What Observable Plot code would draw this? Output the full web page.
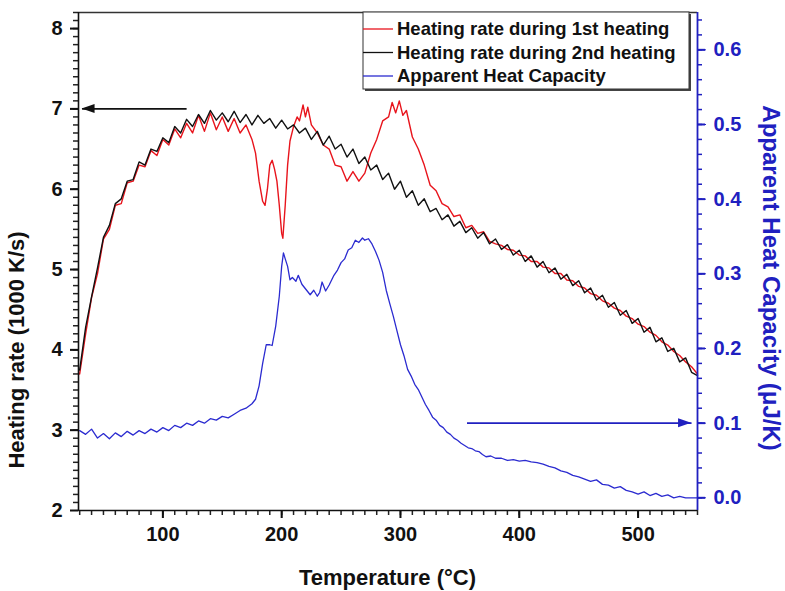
<!DOCTYPE html>
<html><head><meta charset="utf-8">
<script src="https://cdn.jsdelivr.net/npm/d3@7"></script>
<script src="https://cdn.jsdelivr.net/npm/@observablehq/plot@0.6"></script>
<style>
body{margin:0;background:#fff}
#chart svg{font-family:"Liberation Sans",Arial,sans-serif;}
</style>
</head><body><div id="chart"></div>
<script>
// ---- Data ----
// Heating rate during 2nd heating (1000 K/s)
const blackT = [30,35,40,45,50,55,60,65,70,75,80,85,90,95,100,105,110,115,120,125,130,135,140,145,150,155,160,165,170,175,180,185,190,195,200,205,210,215,220,225,230,235,240,245,250,255,260,265,270,275,280,285,290,295,300,305,310,315,320,325,330,335,340,345,350,355,360,365,370,375,380,385,390,395,400,405,410,415,420,425,430,435,440,445,450,455,460,465,470,475,480,485,490,495,500,505,510,515,520,525,530,535,540,545,550];
const blackV = [3.75,4.28,4.66,5.02,5.4,5.55,5.82,5.88,6.1,6.12,6.34,6.3,6.5,6.47,6.64,6.58,6.78,6.7,6.87,6.78,6.93,6.82,6.98,6.86,6.95,6.84,6.97,6.83,6.93,6.8,6.92,6.82,6.88,6.76,6.86,6.75,6.8,6.7,6.76,6.62,6.72,6.55,6.66,6.5,6.56,6.4,6.5,6.32,6.4,6.24,6.3,6.12,6.2,6.0,6.1,5.9,5.98,5.8,5.88,5.72,5.76,5.62,5.68,5.54,5.6,5.46,5.52,5.39,5.46,5.32,5.38,5.25,5.31,5.18,5.24,5.1,5.17,5.03,5.1,4.96,5.02,4.88,4.94,4.8,4.86,4.71,4.77,4.62,4.68,4.53,4.59,4.43,4.49,4.33,4.39,4.22,4.28,4.1,4.15,3.98,4.02,3.85,3.9,3.72,3.68];

// Heating rate during 1st heating (1000 K/s)
const redT = [30,35,40,45,50,55,60,65,70,75,80,85,90,95,100,105,110,115,120,125,130,135,140,145,150,155,160,165,170,175,178,181,184,186,188,190,192,194,196,198,200,201,203,205,207,210,213,215,218,220,222,225,230,235,240,245,250,255,260,265,270,275,280,285,290,293,296,299,302,305,310,315,320,325,330,335,340,345,350,355,360,365,370,375,380,385,390,395,400,405,410,415,420,425,430,435,440,445,450,455,460,465,470,475,480,485,490,495,500,505,510,515,520,525,530,535,540,545,550];
const redV = [3.7,4.2,4.65,4.95,5.38,5.5,5.8,5.82,6.08,6.1,6.3,6.28,6.48,6.42,6.62,6.55,6.75,6.64,6.82,6.7,6.92,6.72,6.95,6.74,6.9,6.72,6.88,6.7,6.8,6.62,6.45,6.1,5.85,5.8,6.0,6.3,6.36,6.25,6.1,5.8,5.45,5.39,5.8,6.3,6.6,6.78,6.9,6.85,7.05,6.9,7.02,6.8,6.7,6.55,6.5,6.3,6.28,6.1,6.22,6.1,6.2,6.45,6.62,6.85,6.9,7.08,6.95,7.1,6.92,6.98,6.65,6.5,6.3,6.05,5.98,5.82,5.78,5.66,5.68,5.52,5.55,5.45,5.47,5.35,5.32,5.3,5.25,5.24,5.18,5.17,5.1,5.1,5.03,5.02,4.95,4.95,4.87,4.86,4.79,4.77,4.7,4.68,4.61,4.58,4.52,4.49,4.42,4.39,4.32,4.29,4.22,4.18,4.1,4.06,3.98,3.93,3.85,3.79,3.7];

// Apparent heat capacity (µJ/K)
const blueT = [30,35,40,45,50,55,60,65,70,75,80,85,90,95,100,105,110,115,120,125,130,135,140,145,150,155,160,165,170,175,178,181,184,187,190,192,195,198,200,201.5,203,205,207,209,212,214,217,219,222,224,227,230,232,234,237,240,244,247,250,253,256,259,262,265,268,270,273,276,279,282,285,288,291,294,297,300,303,306,309,312,315,318,321,324,327,330,333,336,339,342,345,348,351,354,357,360,363,366,369,372,376,380,385,390,395,400,405,410,415,420,425,430,435,440,445,450,455,460,465,470,475,480,485,490,495,500,505,510,515,520,525,530,535,540,545,550];
const blueC = [0.09,0.085,0.092,0.08,0.086,0.079,0.087,0.082,0.089,0.084,0.09,0.086,0.092,0.088,0.094,0.09,0.097,0.094,0.1,0.097,0.103,0.1,0.106,0.104,0.109,0.107,0.112,0.117,0.12,0.126,0.132,0.15,0.18,0.205,0.205,0.204,0.23,0.27,0.31,0.328,0.32,0.31,0.292,0.295,0.29,0.298,0.286,0.282,0.276,0.272,0.278,0.27,0.275,0.289,0.277,0.285,0.298,0.305,0.315,0.32,0.332,0.335,0.345,0.342,0.348,0.345,0.347,0.34,0.33,0.318,0.302,0.278,0.26,0.243,0.224,0.205,0.19,0.172,0.163,0.152,0.145,0.135,0.125,0.117,0.108,0.104,0.097,0.094,0.088,0.085,0.08,0.077,0.073,0.07,0.067,0.066,0.063,0.062,0.058,0.055,0.056,0.053,0.053,0.05,0.051,0.049,0.05,0.048,0.047,0.045,0.042,0.04,0.036,0.034,0.03,0.028,0.025,0.022,0.024,0.018,0.017,0.013,0.015,0.01,0.008,0.005,0.008,0.003,0.006,0.002,0.004,0.0,0.002,0.0,0.0,0.0];

// Axis ticks
const xTicks = [100,200,300,400,500];
const yTicks = [2,3,4,5,6,7,8];
const rTicks = [0.0,0.1,0.2,0.3,0.4,0.5,0.6];
const xMinor = d3.range(30, 551, 10);
const yMinor = d3.range(21, 83, 1).map(d => d/10);
const rMinor = d3.range(0, 33, 1).map(d => d*0.02);

// Annotation arrows (data coordinates; tip is x2)
const leftArrow = [{x1:120, x2:32, y:7}];
const rightArrow = [{x1:356, x2:545, c:0.1}];

// Legend entries
const legendLabels = ["Heating rate during 1st heating","Heating rate during 2nd heating","Apparent Heat Capacity"];
const legendColors = ["#e8141c","#111111","#2b2bd0"];

// ---- Scales ----
const xDomain = [29, 550];
const yDomain = [2, 8.2];
const rDomain = [-0.017, 0.65];
const BLUE = "#2020c0";
const toLeft = c => yDomain[0] + (c - rDomain[0]) / (rDomain[1] - rDomain[0]) * (yDomain[1] - yDomain[0]);
const fromLeft = v => rDomain[0] + (v - yDomain[0]) / (yDomain[1] - yDomain[0]) * (rDomain[1] - rDomain[0]);

const black = blackT.map((t,i)=>({t, v:blackV[i]}));
const red = redT.map((t,i)=>({t, v:redV[i]}));
const blue = blueT.map((t,i)=>({t, v:toLeft(blueC[i])}));
const arrows = [
  ...leftArrow.map(d => ({x1:d.x1, x2:d.x2, y:d.y, color:"#111"})),
  ...rightArrow.map(d => ({x1:d.x1, x2:d.x2, y:toLeft(d.c), color:BLUE}))
];

const W = 785, H = 591;
const mL = 78, mR = 88, mT = 12, mB = 81;
// tick lengths expressed in data units of each scale (≈5 px minor, ≈8 px major)
const xu = (xDomain[1]-xDomain[0]) / (W - mL - mR);
const yu = (yDomain[1]-yDomain[0]) / (H - mT - mB);

const chart = Plot.plot({
  width: W, height: H,
  marginLeft: mL, marginRight: mR, marginTop: mT, marginBottom: mB,
  x: {domain: xDomain},
  y: {domain: yDomain},
  style: {fontFamily: '"Liberation Sans", Arial, sans-serif', fontSize: "20px", fontWeight: "bold", color: "#111", background: "#fff", overflow: "visible"},
  marks: [
    Plot.line(red, {x:"t", y:"v", stroke: legendColors[0], strokeWidth: 1.4}),
    Plot.line(black, {x:"t", y:"v", stroke: legendColors[1], strokeWidth: 1.4}),
    Plot.line(blue, {x:"t", y:"v", stroke: legendColors[2], strokeWidth: 1.3}),
    Plot.link(arrows, {x1:"x1", x2:"x2", y1:"y", y2:"y", stroke:"color", strokeWidth:1.6}),
    // tick marks as rules (outside the frame)
    Plot.ruleX(xMinor, {x: d => d, y1: yDomain[0], y2: yDomain[0] - 5*yu, stroke:"#222", strokeWidth:1.5}),
    Plot.ruleX(xTicks, {x: d => d, y1: yDomain[0], y2: yDomain[0] - 8*yu, stroke:"#111", strokeWidth:2}),
    Plot.ruleY(yMinor, {y: d => d, x1: xDomain[0], x2: xDomain[0] - 5*xu, stroke:"#222", strokeWidth:1.5}),
    Plot.ruleY(yTicks, {y: d => d, x1: xDomain[0], x2: xDomain[0] - 8*xu, stroke:"#111", strokeWidth:2}),
    Plot.ruleY(rMinor, {y: d => toLeft(d), x1: xDomain[1], x2: xDomain[1] + 5*xu, stroke:BLUE, strokeWidth:1.5}),
    Plot.ruleY(rTicks, {y: d => toLeft(d), x1: xDomain[1], x2: xDomain[1] + 8*xu, stroke:BLUE, strokeWidth:2}),
    // frame
    Plot.ruleY([yDomain[1]], {stroke:"#333", strokeWidth:1.3}),
    Plot.ruleY([yDomain[0]], {stroke:"#111", strokeWidth:1.6}),
    Plot.ruleX([xDomain[0]], {stroke:"#111", strokeWidth:1.6}),
    Plot.ruleX([xDomain[1]], {stroke:BLUE, strokeWidth:1.8}),
    // axis labels
    Plot.axisX({ticks: xTicks, tickSize: 8, tickPadding: 8, tickFormat: d => String(d), label: null, fontSize: 20, fontWeight: "bold"}),
    Plot.axisY({ticks: yTicks, tickSize: 8, tickPadding: 8, tickFormat: d => String(d), label: null, fontSize: 20, fontWeight: "bold"}),
    Plot.axisY({anchor: "right", ticks: rTicks.map(toLeft), tickFormat: v => (fromLeft(v)+1e-9).toFixed(1), tickSize: 8, tickPadding: 8, label: null, color: BLUE, fontSize: 20, fontWeight: "bold"})
  ]
});

document.getElementById("chart").appendChild(chart);

const svg = d3.select(chart);
const sx = chart.scale("x"), sy = chart.scale("y");

// filled arrowheads at the tips
arrows.forEach(d => {
  const tx = sx.apply(d.x2), ty = sy.apply(d.y), bx0 = sx.apply(d.x1);
  const dir = Math.sign(tx - bx0);
  const L = 13, hw = 4.5;
  svg.append("path")
    .attr("d", `M${tx},${ty} L${tx - dir*L},${ty - hw} L${tx - dir*L},${ty + hw} Z`)
    .attr("fill", d.color);
});

// Axis titles
svg.append("text").attr("x", (mL + W - mR)/2).attr("y", 585)
  .attr("text-anchor","middle").attr("font-size", 22).attr("font-weight","bold").attr("fill","#111")
  .text("Temperature (°C)");
svg.append("text").attr("transform", "translate(24,350) rotate(-90)")
  .attr("text-anchor","middle").attr("font-size", 22).attr("font-weight","bold").attr("fill","#111")
  .text("Heating rate (1000 K/s)");
svg.append("text").attr("transform", "translate(763,278) rotate(90)")
  .attr("text-anchor","middle").attr("font-size", 24).attr("font-weight","bold").attr("fill",BLUE)
  .text("Apparent Heat Capacity (μJ/K)");

// legend box
const lg = svg.append("g").attr("text-anchor","start");
const bx = 363, by = 12, bw = 326, bh = 77;
lg.append("rect").attr("x", bx+2).attr("y", by+2).attr("width", bw).attr("height", bh).attr("fill","#444");
lg.append("rect").attr("x", bx).attr("y", by).attr("width", bw).attr("height", bh).attr("fill","#fff").attr("stroke","#333").attr("stroke-width",1);
legendLabels.forEach((lab, i) => {
  const yy = by + 17 + i*23.5;
  lg.append("line").attr("x1", bx).attr("x2", bx+30).attr("y1", yy).attr("y2", yy).attr("stroke", legendColors[i]).attr("stroke-width", 1.3);
  lg.append("text").attr("x", bx+34).attr("y", yy).attr("dy","0.35em").attr("text-anchor","start").attr("font-size", 18.5).attr("font-weight","bold").attr("fill","#111").text(lab);
});
</script>
</body></html>
